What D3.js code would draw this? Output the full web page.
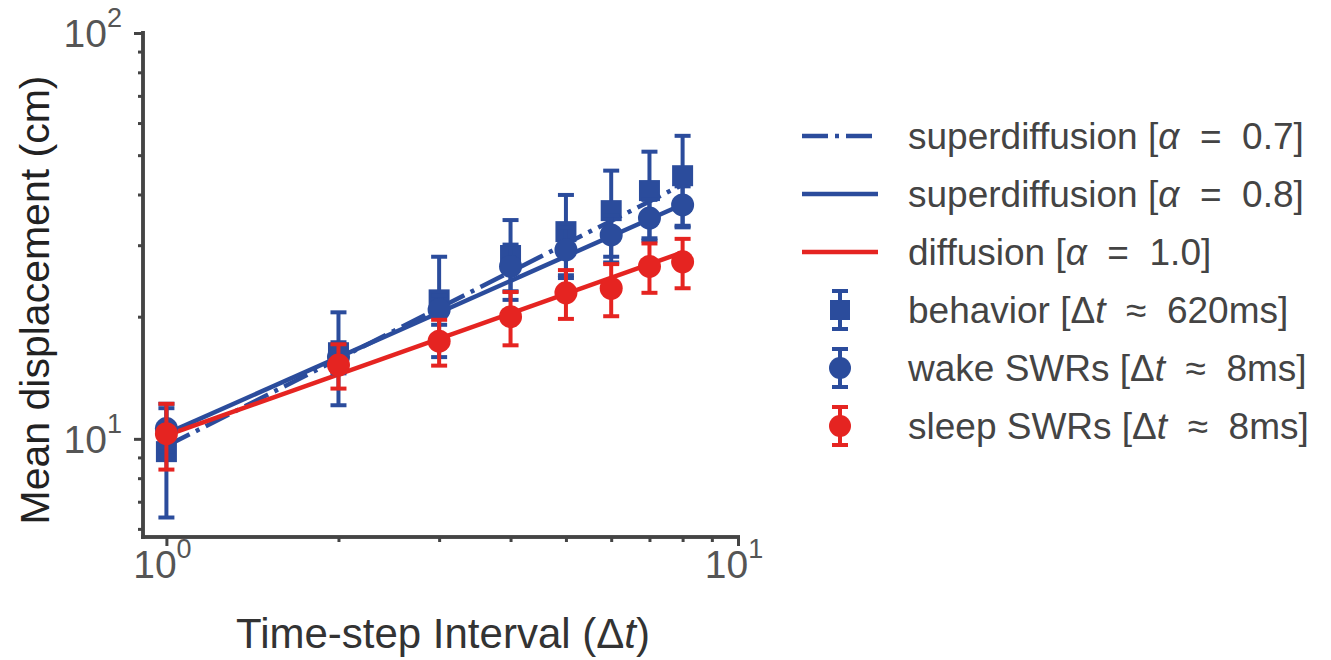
<!DOCTYPE html>
<html>
<head>
<meta charset="utf-8">
<script src="https://cdn.jsdelivr.net/npm/d3@7"></script>
<style>
  body { margin: 0; background: #fff; }
  svg { display: block; font-family: "Liberation Sans", Arial, sans-serif; }
</style>
</head>
<body>
<svg width="1331" height="660"></svg>
<script>
// time-step intervals
var steps = [1, 2, 3, 4, 5, 6, 7, 8];

// mean displacement (cm) and error
var behaviorMean = [9.3, 16.3, 22.0, 28.3, 32.4, 36.5, 40.9, 44.5];
var behaviorErr  = [2.9, 4.2, 6.1, 6.3, 7.5, 9.3, 10.1, 11.3];
var wakeMean = [10.6, 15.9, 20.8, 26.6, 29.2, 31.8, 35.0, 37.7];
var wakeErr  = [1.3, 1.4, 1.7, 3.5, 3.9, 3.7, 3.8, 4.2];
var sleepMean = [10.3, 15.2, 17.4, 20.0, 22.9, 23.5, 26.6, 27.3];
var sleepErr  = [1.9, 1.9, 2.25, 3.0, 3.15, 3.45, 3.7, 3.8];

// fitted power laws, end points
var fitSteps = [1, 8];
var fit07 = [9.6, 42.3];
var fit08 = [10.3, 37.8];
var fit10 = [10.2, 28.8];

// ticks
var xMajor = [1, 10], xMajorExp = ["0", "1"];
var xMinor = [2, 3, 4, 5, 6, 7, 8, 9];
var yMajor = [10, 100], yMajorExp = ["1", "2"];
var yMinor = [6, 7, 8, 9, 20, 30, 40, 50, 60, 70, 80, 90];

var blue = "#2b4c9c", red = "#e52421", ink = "#444";

var svg = d3.select("svg");

var x = d3.scaleLog().domain([0.91, 10]).range([143, 738]);
var y = d3.scaleLog().domain([5.73, 100]).range([537, 33]);

// axes
var gx = svg.append("g").attr("transform", "translate(0,537)");
gx.call(d3.axisBottom(x).tickValues(xMinor).tickSize(5).tickSizeOuter(0).tickFormat(""));
gx.append("g").call(d3.axisBottom(x).tickValues(xMajor).tickSize(9).tickSizeOuter(0).tickFormat(""));
var gy = svg.append("g").attr("transform", "translate(143,0)");
gy.call(d3.axisLeft(y).tickValues(yMinor).tickSize(5).tickSizeOuter(0).tickFormat(""));
gy.append("g").call(d3.axisLeft(y).tickValues(yMajor).tickSize(9).tickSizeOuter(0).tickFormat(""));
svg.selectAll(".domain").attr("stroke", ink).attr("stroke-width", 3.5);
svg.selectAll(".tick line").attr("stroke", ink).attr("stroke-width", 3);
gx.selectAll(".domain").attr("d", "M141,0H740");
gy.selectAll(".domain").attr("d", "M0,31V539");

// tick labels 10^n
xMajor.forEach(function(v, i) {
  var t = svg.append("text").attr("x", x(v) - 4).attr("y", 578).attr("text-anchor", "middle")
    .attr("fill", "#555").attr("font-size", 39);
  t.append("tspan").text("10");
  t.append("tspan").attr("dy", -20).attr("font-size", 27).text(xMajorExp[i]);
});
yMajor.forEach(function(v, i) {
  var t = svg.append("text").attr("x", 122).attr("y", y(v) + 14).attr("text-anchor", "end")
    .attr("fill", "#555").attr("font-size", 39);
  t.append("tspan").text("10");
  t.append("tspan").attr("dy", -20).attr("font-size", 27).text(yMajorExp[i]);
});

// axis labels
var xl = svg.append("text").attr("x", 443).attr("y", 648).attr("text-anchor", "middle")
  .attr("fill", "#333").attr("font-size", 42);
xl.append("tspan").text("Time-step Interval (Δ");
xl.append("tspan").attr("font-style", "italic").text("t");
xl.append("tspan").text(")");

svg.append("text").attr("transform", "translate(49,300) rotate(-90)").attr("text-anchor", "middle")
  .attr("fill", "#222").attr("font-size", 41).text("Mean displacement (cm)");

// fit lines
var line = d3.line().x(function(d) { return x(d[0]); }).y(function(d) { return y(d[1]); });
var fits = [
  {vals: fit07, color: blue, dash: "26,7,4,7"},
  {vals: fit08, color: blue, dash: null},
  {vals: fit10, color: red, dash: null}
];
fits.forEach(function(f) {
  svg.append("path")
    .attr("d", line(d3.zip(fitSteps, f.vals)))
    .attr("fill", "none").attr("stroke", f.color).attr("stroke-width", 4.5)
    .attr("stroke-dasharray", f.dash);
});

// error bars + markers
function errorSeries(means, errs, color, shape) {
  var g = svg.append("g");
  var pts = steps.map(function(s, i) { return {s: s, m: means[i], e: errs[i]}; });
  g.selectAll(".bar").data(pts).enter().append("line")
    .attr("x1", function(d) { return x(d.s); }).attr("x2", function(d) { return x(d.s); })
    .attr("y1", function(d) { return y(d.m - d.e); }).attr("y2", function(d) { return y(d.m + d.e); })
    .attr("stroke", color).attr("stroke-width", 4);
  [-1, 1].forEach(function(sgn) {
    g.selectAll(".cap" + sgn).data(pts).enter().append("line")
      .attr("x1", function(d) { return x(d.s) - 8; }).attr("x2", function(d) { return x(d.s) + 8; })
      .attr("y1", function(d) { return y(d.m + sgn * d.e); }).attr("y2", function(d) { return y(d.m + sgn * d.e); })
      .attr("stroke", color).attr("stroke-width", 4);
  });
  if (shape === "square") {
    g.selectAll(".mk").data(pts).enter().append("rect")
      .attr("x", function(d) { return x(d.s) - 10.5; }).attr("y", function(d) { return y(d.m) - 10.5; })
      .attr("width", 21).attr("height", 21).attr("fill", color);
  } else {
    g.selectAll(".mk").data(pts).enter().append("circle")
      .attr("cx", function(d) { return x(d.s); }).attr("cy", function(d) { return y(d.m); })
      .attr("r", 11.5).attr("fill", color);
  }
}
errorSeries(behaviorMean, behaviorErr, blue, "square");
errorSeries(wakeMean, wakeErr, blue, "circle");
errorSeries(sleepMean, sleepErr, red, "circle");

// legend
var legendRows = [
  {kind: "line", color: blue, dash: "26,7,4,7", pre: "superdiffusion [", it: "α", post: " = 0.7]"},
  {kind: "line", color: blue, dash: null, pre: "superdiffusion [", it: "α", post: " = 0.8]"},
  {kind: "line", color: red, dash: null, pre: "diffusion [", it: "α", post: " = 1.0]"},
  {kind: "square", color: blue, pre: "behavior [Δ", it: "t", post: " ≈ 620ms]"},
  {kind: "circle", color: blue, pre: "wake SWRs [Δ", it: "t", post: " ≈ 8ms]"},
  {kind: "circle", color: red, pre: "sleep SWRs [Δ", it: "t", post: " ≈ 8ms]"}
];
legendRows.forEach(function(r, i) {
  var cy = 136 + i * 58;
  if (r.kind === "line") {
    svg.append("line").attr("x1", 802).attr("x2", 878).attr("y1", cy).attr("y2", cy)
      .attr("stroke", r.color).attr("stroke-width", 4.5).attr("stroke-dasharray", r.dash);
  } else {
    svg.append("line").attr("x1", 840).attr("x2", 840).attr("y1", cy - 19).attr("y2", cy + 19)
      .attr("stroke", r.color).attr("stroke-width", 4);
    [-19, 19].forEach(function(o) {
      svg.append("line").attr("x1", 832).attr("x2", 848).attr("y1", cy + o).attr("y2", cy + o)
        .attr("stroke", r.color).attr("stroke-width", 4);
    });
    if (r.kind === "square") {
      svg.append("rect").attr("x", 830).attr("y", cy - 10).attr("width", 20).attr("height", 20).attr("fill", r.color);
    } else {
      svg.append("circle").attr("cx", 840).attr("cy", cy).attr("r", 11).attr("fill", r.color);
    }
  }
  var t = svg.append("text").attr("x", 908).attr("y", cy + 13).attr("fill", ink).attr("font-size", 37);
  t.append("tspan").text(r.pre);
  t.append("tspan").attr("font-style", "italic").text(r.it);
  t.append("tspan").attr("xml:space", "preserve").text(r.post.replace(/ ([=≈]) /, "  $1  "));
});
</script>
</body>
</html>
